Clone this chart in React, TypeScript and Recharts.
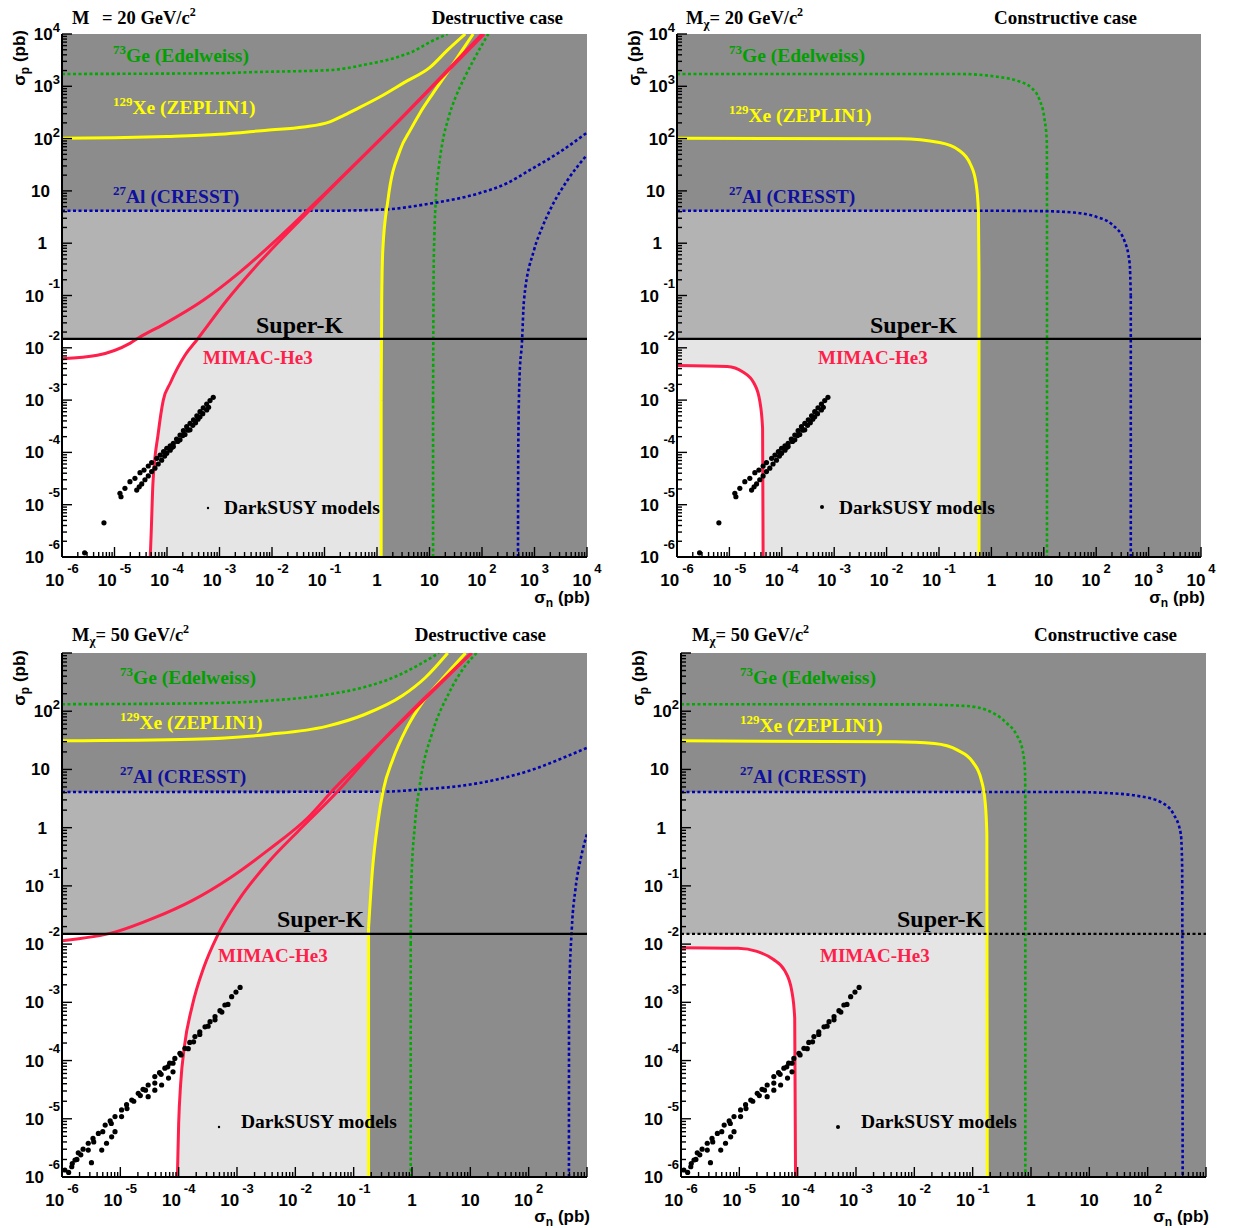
import React from "react";
import { ComposedChart, Area, Line, Scatter, XAxis, YAxis } from "recharts";

type P = [number, number];

const X_MIN = 1e-6;
const Y_MIN = 1e-6;

// ---------- M = 20 GeV/c2, destructive ----------
const SK_20 = 0.0148;
const GE_20D_P: P[] = [[1e-6, 1720], [1e-3, 1780], [3.8e-3, 1860], [0.126, 2040], [0.6, 2600], [2.4, 3600], [5, 4700], [10.2, 7000], [22, 1e4]];
const GE_20D_N: P[] = [[11.7, 1e-6], [11.7, 1e-3], [11.8, 0.01], [12.0, 0.3], [12.4, 1.5], [13.2, 6.8], [14.8, 25], [17.5, 80], [23, 250], [31, 600], [47, 1500], [67, 3000], [98, 6000], [132, 1e4]];
const XE_20D_P: P[] = [[1e-6, 102], [1e-5, 104], [1e-4, 110], [1e-3, 121], [8e-3, 145], [0.04, 166], [0.126, 209], [0.22, 270], [0.38, 355], [1.15, 630], [3.4, 1200], [10.2, 2300], [22, 4900], [48, 1e4]];
const XE_20D_N: P[] = [[1.2, 1e-6], [1.2, 1e-3], [1.23, 0.08], [1.29, 0.74], [1.62, 6.8], [2.75, 60], [4.3, 145], [6.6, 310], [11.7, 740], [21.4, 1780], [38, 4200], [68, 1e4]];
const AL_20D_P: P[] = [[1e-6, 4.17], [0.1, 4.17], [1.3, 4.4], [10, 5.7], [91, 9.1], [300, 14], [813, 25], [3000, 55], [1e4, 130]];
const AL_20D_N: P[] = [[485, 1e-6], [490, 1e-4], [520, 3e-3], [575, 0.012], [630, 0.081], [980, 0.74], [1400, 2], [2100, 4.9], [4250, 16], [1e4, 49]];
const MIMAC_20D_P: P[] = [[1e-6, 6.2e-3], [4.7e-6, 7.2e-3], [2.0e-5, 0.0123], [3.1e-5, 0.0162], [8.3e-5, 0.0275], [4.9e-4, 0.081], [2.45e-3, 0.28], [0.014, 1.32], [0.126, 11], [2.75, 234], [100, 1e4]];
const MIMAC_20D_N: P[] = [[4.8e-5, 1e-6], [5.0e-5, 2.9e-6], [5.4e-5, 2.6e-5], [6.8e-5, 2.3e-4], [8.5e-5, 1e-3], [1.15e-4, 2.1e-3], [2.2e-4, 7.2e-3], [3.7e-4, 0.0141], [1.38e-3, 0.081], [5.9e-3, 0.44], [0.034, 2.75], [0.126, 10.5], [2.75, 229], [110, 1e4]];
const XE_AT_AL_20D = 1.54;
const XE_AT_SK_20D = 1.2;
const MIMAC_AT_SK_20D = 3.8e-4;

// ---------- M = 20 GeV/c2, constructive ----------
const GE_20C: P[] = [[1e-6, 1720], [0.24, 1720], [1.29, 1520], [3.0, 1290], [5.96, 910], [8.3, 550], [10.2, 253], [11.4, 91], [11.5, 19.5], [11.5, 1e-6]];
const XE_20C: P[] = [[1e-6, 102], [0.0186, 99], [0.102, 84], [0.24, 60], [0.4, 32], [0.51, 13.8], [0.565, 4.2], [0.58, 0.27], [0.58, 1e-6]];
const AL_20C: P[] = [[1e-6, 4.17], [1, 4.17], [10, 4.1], [38, 3.85], [90, 3.3], [209, 2.2], [347, 1.1], [436, 0.4], [457, 0.1], [457, 1e-6]];
const MIMAC_20C: P[] = [[1e-6, 4.6e-3], [9.1e-6, 4.4e-3], [1.78e-5, 3.5e-3], [2.95e-5, 2.1e-3], [3.8e-5, 9.6e-4], [4.3e-5, 2.9e-4], [4.4e-5, 1e-6]];
const XE_AT_AL_20C = 0.565;
const XE_AT_SK_20C = 0.58;

// ---------- M = 50 GeV/c2, destructive ----------
const SK_50 = 0.015;
const GE_50D_P: P[] = [[1e-6, 132], [1.7e-4, 136], [3.5e-3, 152], [0.034, 192], [0.15, 258], [0.51, 390], [1.26, 612], [2.9, 1e3]];
const GE_50D_N: P[] = [[0.95, 1e-6], [0.95, 1e-2], [0.97, 0.1], [1.12, 1.1], [1.37, 5.7], [2.25, 44], [4.3, 205], [8.2, 603], [12.8, 1e3]];
const XE_50D_P: P[] = [[1e-6, 31], [1.7e-4, 33], [3.5e-3, 40], [0.034, 55], [0.15, 87], [0.69, 186], [1.7, 380], [4.1, 1e3]];
const XE_50D_N: P[] = [[0.18, 1e-6], [0.18, 0.019], [0.21, 0.19], [0.26, 1.23], [0.32, 4.3], [0.47, 15], [0.8, 50], [1.48, 138], [3.2, 347], [8.3, 1e3]];
const AL_50D_P: P[] = [[1e-6, 4.1], [0.3, 4.15], [1.48, 4.55], [6.6, 5.2], [30, 6.8], [138, 10.5], [400, 16], [1e3, 23.5]];
const AL_50D_N: P[] = [[490, 1e-6], [492, 1e-3], [550, 0.019], [635, 0.089], [790, 0.31], [1e3, 0.78]];
const MIMAC_50D_P: P[] = [[1e-6, 0.0114], [8.3e-6, 0.0162], [3.7e-5, 0.0279], [1.7e-4, 0.056], [7.8e-4, 0.14], [3.5e-3, 0.42], [0.016, 1.45], [0.046, 4.6], [0.32, 32], [10.5, 1e3]];
const MIMAC_50D_N: P[] = [[9.5e-5, 1e-6], [1.0e-4, 8.3e-6], [1.08e-4, 3.9e-5], [1.26e-4, 1.8e-4], [1.7e-4, 8.5e-4], [2.7e-4, 4.0e-3], [4.6e-4, 0.0139], [1.05e-3, 0.056], [3.5e-3, 0.26], [0.0117, 0.91], [0.046, 3.6], [0.32, 32], [10.5, 1e3]];
const XE_AT_AL_50D = 0.315;
const XE_AT_SK_50D = 0.18;
const MIMAC_AT_SK_50D = 4.8e-4;

// ---------- M = 50 GeV/c2, constructive ----------
const GE_50C: P[] = [[1e-6, 132], [0.01, 131], [0.076, 123], [0.19, 101], [0.38, 63], [0.56, 40], [0.72, 21], [0.79, 9.2], [0.8, 3.6], [0.8, 1e-6]];
const XE_50C: P[] = [[1e-6, 31], [4.7e-3, 30], [0.022, 28], [0.055, 21.5], [0.1, 13.5], [0.14, 6.7], [0.164, 2.7], [0.175, 0.78], [0.178, 1e-6]];
const AL_50C: P[] = [[1e-6, 4.1], [5, 4.1], [23, 3.9], [69, 3.5], [174, 2.7], [280, 1.68], [370, 0.78], [390, 0.22], [398, 1e-6]];
const MIMAC_50C: P[] = [[1e-6, 8.7e-3], [9.5e-6, 8.5e-3], [2.0e-5, 7.5e-3], [3.8e-5, 5.5e-3], [6.0e-5, 3.5e-3], [7.9e-5, 1.6e-3], [8.9e-5, 5.4e-4], [9.2e-5, 1e-6]];
const XE_AT_AL_50C = 0.155;
const XE_AT_SK_50C = 0.177;

// ---------- DarkSUSY models ----------
const SUSY_20: P[] = [
  [1.27e-5, 1.65e-5], [1.33e-5, 1.42e-5], [1.58e-5, 2.06e-5], [1.97e-5, 2.75e-5], [2.45e-5, 3.2e-5], [3.06e-5, 4.1e-5],
  [3.65e-5, 4.6e-5], [4.4e-5, 5.5e-5], [5.1e-5, 6.4e-5], [6.4e-5, 7.7e-5], [7.4e-5, 8.9e-5], [8.6e-5, 1.04e-4],
  [9.9e-5, 1.2e-4], [1.15e-4, 1.34e-4], [1.32e-4, 1.49e-4], [1.52e-4, 1.8e-4], [1.77e-4, 2.15e-4], [2.05e-4, 2.6e-4],
  [2.37e-4, 3.1e-4], [2.75e-4, 3.6e-4], [3.2e-4, 4.2e-4], [3.7e-4, 5.0e-4], [4.25e-4, 6.0e-4], [4.9e-4, 7.1e-4],
  [5.7e-4, 8.4e-4], [6.6e-4, 9.8e-4], [7.6e-4, 1.13e-3],
  [9.9e-5, 9.6e-5], [1.15e-4, 1.1e-4], [1.25e-4, 1.25e-4], [1.32e-4, 1.29e-4], [1.6e-4, 1.62e-4], [1.77e-4, 1.74e-4],
  [2.0e-4, 2.1e-4], [2.2e-4, 2.2e-4], [2.5e-4, 2.65e-4], [2.74e-4, 2.7e-4], [3.1e-4, 3.3e-4], [3.5e-4, 3.7e-4],
  [3.9e-4, 4.3e-4], [4.25e-4, 4.8e-4], [4.8e-4, 5.5e-4], [5.7e-4, 6.5e-4], [6.2e-4, 7.3e-4],
  [2.65e-5, 1.9e-5], [2.96e-5, 2.2e-5], [3.3e-5, 2.5e-5], [3.8e-5, 3.0e-5], [4.4e-5, 3.55e-5], [5.1e-5, 4.3e-5],
  [5.9e-5, 5.0e-5], [6.8e-5, 6.0e-5], [7.9e-5, 7.1e-5], [9.0e-5, 8.5e-5],
  [6.3e-6, 4.5e-6], [2.7e-6, 1.2e-6],
];
const SUSY_50: P[] = [
  [1.12e-6, 1.32e-6], [1.47e-6, 1.5e-6], [1.67e-6, 1.96e-6], [1.9e-6, 2.6e-6], [2.3e-6, 3.0e-6], [2.82e-6, 3.8e-6],
  [3.4e-6, 4.6e-6], [4.2e-6, 5.6e-6], [5.5e-6, 7.8e-6], [6.7e-6, 9.2e-6], [8.1e-6, 1.09e-5], [1.05e-5, 1.42e-5],
  [1.28e-5, 1.75e-5], [1.57e-5, 2.1e-5], [2.03e-5, 2.74e-5], [2.45e-5, 3.2e-5], [3.0e-5, 3.8e-5], [3.9e-5, 5.3e-5],
  [4.7e-5, 6.2e-5], [5.8e-5, 7.4e-5], [7.0e-5, 9.0e-5], [8.6e-5, 1.09e-4], [1.05e-4, 1.33e-4], [1.28e-4, 1.62e-4],
  [1.55e-4, 2.05e-4], [1.9e-4, 2.58e-4], [2.3e-4, 3.1e-4], [2.83e-4, 3.8e-4], [3.45e-4, 4.65e-4], [4.2e-4, 5.7e-4],
  [5.1e-4, 7.2e-4], [6.2e-4, 9.0e-4], [8.1e-4, 1.25e-3], [9.6e-4, 1.5e-3], [1.13e-3, 1.8e-3],
  [1.3e-6, 1.2e-6], [1.5e-6, 1.7e-6], [1.8e-6, 2.0e-6], [2.1e-6, 2.4e-6], [2.82e-6, 2.9e-6], [3.5e-6, 4.0e-6],
  [5e-6, 6e-6], [7e-6, 8.3e-6], [1.05e-5, 1.09e-5], [1.3e-5, 1.5e-5], [1.7e-5, 2.0e-5], [2.2e-5, 2.5e-5],
  [2.7e-5, 3.1e-5], [3.9e-5, 4.1e-5], [5e-5, 5.8e-5], [6.5e-5, 7.8e-5], [8e-5, 9e-5], [1.1e-4, 1.25e-4],
  [1.46e-4, 1.6e-4], [1.8e-4, 2.1e-4], [2.3e-4, 2.8e-4], [3.2e-4, 3.9e-4], [4.2e-4, 5.0e-4], [5.5e-4, 6.8e-4],
  [7e-4, 9.2e-4],
  [3.0e-5, 2.4e-5], [3.9e-5, 3.1e-5], [5.1e-5, 3.8e-5], [6.7e-5, 5.0e-5], [8.0e-5, 6.4e-5],
  [4.8e-6, 2.9e-6], [5.8e-6, 3.8e-6], [7.1e-6, 4.9e-6], [8.1e-6, 6.0e-6],
  [3.2e-6, 1.76e-6],
];

const MANTISSAS = [1, 2, 3, 4, 5, 6, 7, 8, 9];
const DECADES_TOP = [-6, -5, -4, -3, -2, -1, 0, 1, 2, 3];
const DECADES_BOTTOM = [-6, -5, -4, -3, -2, -1, 0, 1, 2];

const DARK = "#8c8c8c";
const MID = "#b3b3b3";
const LIGHT = "#e5e5e5";
const RED = "#ff1f4b";
const YELLOW = "#ffff00";
const GREEN = "#00aa00";
const BLUE = "#0000b4";
const SANS = "'Liberation Sans', Arial, Helvetica, sans-serif";
const SERIF = "'Liberation Serif', 'Times New Roman', serif";

const logTicks = (decades: number[]) => [
  ...decades.flatMap((d) => MANTISSAS.map((m) => m * 10 ** d)),
  10 ** (decades[decades.length - 1] + 1),
];

const xy = (pts: P[]) => pts.map(([x, y]) => ({ x, y }));
const between = (pts: P[], lo: number, hi: number): P[] =>
  pts.filter(([, y]) => y > lo && y < hi).sort((a, b) => b[1] - a[1]);

// split a curve into runs where sigma_n grows (smooth) and vertical runs (straight)
type Piece = { pts: P[]; smooth: boolean };
const pieces = (pts: P[]): Piece[] => {
  const out: Piece[] = [];
  let smooth = pts[1][0] > pts[0][0];
  let cur: P[] = [pts[0]];
  for (let i = 1; i < pts.length; i++) {
    const s = pts[i][0] > pts[i - 1][0];
    if (s !== smooth) {
      out.push({ pts: cur, smooth });
      cur = [pts[i - 1]];
      smooth = s;
    }
    cur.push(pts[i]);
  }
  out.push({ pts: cur, smooth });
  return out;
};

type Panel = {
  left: number; top: number; width: number; height: number; mTop: number; mRight: number;
  decades: number[]; lastLabel: number;
  ge: P[][]; xe: P[][]; al: P[][]; mimac: P[][];
  sk: number; skDash?: string; alP: number;
  xeAtAl: number; xeAtSK: number; mimacAtSK: number | null;
  susy: P[];
};

const PANELS: Panel[] = [
  { left: 0, top: 0, width: 615, height: 602, mTop: 34, mRight: 28, decades: DECADES_TOP, lastLabel: 4,
    ge: [GE_20D_P, GE_20D_N], xe: [XE_20D_P, XE_20D_N], al: [AL_20D_P, AL_20D_N], mimac: [MIMAC_20D_P, MIMAC_20D_N],
    sk: SK_20, alP: 4.17, xeAtAl: XE_AT_AL_20D, xeAtSK: XE_AT_SK_20D, mimacAtSK: MIMAC_AT_SK_20D, susy: SUSY_20 },
  { left: 615, top: 0, width: 621, height: 602, mTop: 34, mRight: 35, decades: DECADES_TOP, lastLabel: 4,
    ge: [GE_20C], xe: [XE_20C], al: [AL_20C], mimac: [MIMAC_20C],
    sk: SK_20, alP: 4.17, xeAtAl: XE_AT_AL_20C, xeAtSK: XE_AT_SK_20C, mimacAtSK: null, susy: SUSY_20 },
  { left: 0, top: 618, width: 615, height: 604, mTop: 35, mRight: 28, decades: DECADES_BOTTOM, lastLabel: 2,
    ge: [GE_50D_P, GE_50D_N], xe: [XE_50D_P, XE_50D_N], al: [AL_50D_P, AL_50D_N], mimac: [MIMAC_50D_P, MIMAC_50D_N],
    sk: SK_50, alP: 4.1, xeAtAl: XE_AT_AL_50D, xeAtSK: XE_AT_SK_50D, mimacAtSK: MIMAC_AT_SK_50D, susy: SUSY_50 },
  { left: 619, top: 618, width: 617, height: 604, mTop: 35, mRight: 30, decades: DECADES_BOTTOM, lastLabel: 2,
    ge: [GE_50C], xe: [XE_50C], al: [AL_50C], mimac: [MIMAC_50C],
    sk: SK_50, skDash: "3 2.5", alP: 4.1, xeAtAl: XE_AT_AL_50C, xeAtSK: XE_AT_SK_50C, mimacAtSK: null, susy: SUSY_50 },
];

function XTick(props: any) {
  const { x, y, payload, lastLabel } = props;
  const lg = Math.log10(payload.value);
  const e = Math.round(lg);
  const major = Math.abs(lg - e) < 1e-6;
  return (
    <g>
      <line x1={x} x2={x} y1={y} y2={y - (major ? 10 : 5)} stroke="#000" strokeWidth={1.4} />
      {major && e <= lastLabel && (
        <text x={x} y={y + 29} textAnchor="middle" fontFamily={SANS} fontWeight="bold" fontSize={17} fill="#000">
          {e === 0 ? "1" : "10"}
          {e !== 0 && e !== 1 && <tspan dx={3} dy={-13} fontSize={13}>{e}</tspan>}
        </text>
      )}
    </g>
  );
}

function YTick(props: any) {
  const { x, y, payload, lastLabel } = props;
  const lg = Math.log10(payload.value);
  const e = Math.round(lg);
  const major = Math.abs(lg - e) < 1e-6;
  const common = { fontFamily: SANS, fontWeight: "bold" as const, fill: "#000" };
  let label: React.ReactNode = null;
  if (major && e <= lastLabel) {
    if (e === 0 || e === 1) {
      label = <text x={x - (e === 0 ? 15 : 12)} y={y + 6} textAnchor="end" fontSize={17} {...common}>{e === 0 ? "1" : "10"}</text>;
    } else if (e > 1) {
      label = (
        <text x={x - 2} y={y + 6} textAnchor="end" fontSize={17} {...common}>
          10<tspan dy={-8} fontSize={13}>{e}</tspan>
        </text>
      );
    } else {
      label = (
        <g>
          <text x={x - 18} y={y + 6} textAnchor="end" fontSize={17} {...common}>10</text>
          <text x={x - 2} y={y - 8} textAnchor="end" fontSize={13} {...common}>{e}</text>
        </g>
      );
    }
  }
  return (
    <g>
      <line x1={x} x2={x + (major ? 10 : 5)} y1={y} y2={y} stroke="#000" strokeWidth={1.4} />
      {label}
    </g>
  );
}

function PanelChart({ p }: { p: Panel }) {
  const ticks = logTicks(p.decades);
  const max = ticks[ticks.length - 1];
  const xeVert = p.xe[p.xe.length - 1];
  const mimacVert = p.mimac[p.mimac.length - 1];
  const dark: P[] = [[X_MIN, max], [max, max]];
  const mid: P[] = [[X_MIN, p.alP], [p.xeAtAl, p.alP], ...between(xeVert, p.sk, p.alP), [p.xeAtSK, p.sk]];
  const light: P[] = [[X_MIN, p.sk], [p.xeAtSK, p.sk], ...between(xeVert, 0, p.sk)];
  const constructive = p.mimacAtSK === null;
  const white: P[] = constructive
    ? mimacVert
    : [[X_MIN, p.sk], [p.mimacAtSK as number, p.sk], ...between(mimacVert, 0, p.sk)];
  const superK: P[] = [[X_MIN, p.sk], [max, p.sk]];

  const fill = (pts: P[], color: string, base: number, key: string, smooth = false) => (
    <Area key={key} data={xy(pts)} dataKey="y" type={smooth ? "monotoneX" : "linear"} baseValue={base} fill={color}
      fillOpacity={1} stroke="none" dot={false} activeDot={false} isAnimationActive={false} />
  );
  const curve = (pts: P[], color: string, key: string, dash?: string, w = 3) =>
    pieces(pts).map((pc, j) => (
      <Line key={key + "-" + j} data={xy(pc.pts)} dataKey="y" type={pc.smooth ? "monotoneX" : "linear"} stroke={color}
        strokeWidth={w} strokeDasharray={dash} dot={false} activeDot={false} isAnimationActive={false}
        strokeLinejoin="round" />
    ));

  return (
    <div style={{ position: "absolute", left: p.left, top: p.top }}>
      <ComposedChart width={p.width} height={p.height} margin={{ top: p.mTop, right: p.mRight, bottom: 0, left: 0 }}>
        {fill(dark, DARK, Y_MIN, "dark")}
        {fill(mid, MID, p.sk, "mid")}
        {fill(light, LIGHT, Y_MIN, "light")}
        {fill(white, "#ffffff", Y_MIN, "white", constructive)}
        {p.ge.map((b, i) => curve(b, GREEN, "ge" + i, "3 2.5", 2.6))}
        {p.al.map((b, i) => curve(b, BLUE, "al" + i, "3 2.5", 2.6))}
        {p.xe.map((b, i) => curve(b, YELLOW, "xe" + i))}
        {p.mimac.map((b, i) => curve(b, RED, "mi" + i))}
        {curve(superK, "#000", "sk", p.skDash, 2.4)}
        <Scatter data={xy(p.susy)} isAnimationActive={false}
          shape={(s: any) => <circle cx={s.cx} cy={s.cy} r={2.6} fill="#000" />} />
        <XAxis dataKey="x" type="number" scale="log" domain={[X_MIN, max]} allowDataOverflow ticks={ticks} interval={0}
          height={45} tickSize={0} tickMargin={0} tickLine={false} axisLine={{ stroke: "#000", strokeWidth: 2 }}
          tick={(tp: any) => <XTick {...tp} lastLabel={p.lastLabel} />} />
        <YAxis dataKey="y" type="number" scale="log" domain={[Y_MIN, max]} allowDataOverflow ticks={ticks} interval={0}
          width={62} tickSize={0} tickMargin={0} tickLine={false} axisLine={{ stroke: "#000", strokeWidth: 2 }}
          tick={(tp: any) => <YTick {...tp} lastLabel={p.lastLabel} />} />
        <XAxis xAxisId="frameTop" orientation="top" type="number" scale="log" domain={[X_MIN, max]} allowDataOverflow
          height={0} tick={false} tickLine={false} axisLine={{ stroke: "#000", strokeWidth: 2 }} />
        <YAxis yAxisId="frameRight" orientation="right" type="number" scale="log" domain={[Y_MIN, max]} allowDataOverflow
          width={0} tick={false} tickLine={false} axisLine={{ stroke: "#000", strokeWidth: 2 }} />
      </ComposedChart>
    </div>
  );
}

type Txt = {
  title: [number, number]; chi: boolean; mass: number; kind: string; kindEnd: number;
  ge: [number, number]; xe: [number, number]; al: [number, number];
  superK: [number, number]; mimac: [number, number];
  dot: [number, number, number]; ds: [number, number];
  sp: [number, number]; sn: [number, number];
};

const TEXTS: Txt[] = [
  { title: [72, 24], chi: false, mass: 20, kind: "Destructive case", kindEnd: 563, ge: [113, 62], xe: [113, 114], al: [113, 203],
    superK: [256, 333], mimac: [203, 364], dot: [208, 508, 1.2], ds: [224, 514], sp: [25, 30], sn: [590, 603] },
  { title: [686, 24], chi: true, mass: 20, kind: "Constructive case", kindEnd: 1137, ge: [729, 62], xe: [729, 122], al: [729, 203],
    superK: [870, 333], mimac: [818, 364], dot: [822, 507, 2], ds: [839, 514], sp: [640, 30], sn: [1205, 603] },
  { title: [72, 641], chi: true, mass: 50, kind: "Destructive case", kindEnd: 546, ge: [120, 684], xe: [120, 729], al: [120, 783],
    superK: [277, 927], mimac: [218, 962], dot: [219, 1127, 1.2], ds: [241, 1128], sp: [25, 650], sn: [590, 1222] },
  { title: [692, 641], chi: true, mass: 50, kind: "Constructive case", kindEnd: 1177, ge: [740, 684], xe: [740, 732], al: [740, 783],
    superK: [897, 927], mimac: [820, 962], dot: [838, 1127, 2], ds: [861, 1128], sp: [644, 650], sn: [1209, 1222] },
];

function Isotope({ at, mass, name, color }: { at: [number, number]; mass: string; name: string; color: string }) {
  return (
    <text x={at[0]} y={at[1]} fill={color} fontFamily={SERIF} fontWeight="bold" fontSize={19.5}>
      <tspan fontSize={13} dy={-8}>{mass}</tspan>
      <tspan dy={8}>{name}</tspan>
    </text>
  );
}

function Labels() {
  return (
    <svg width={1236} height={1228} style={{ position: "absolute", left: 0, top: 0, pointerEvents: "none" }}>
      {TEXTS.map((t, i) => (
        <g key={i}>
          <text x={t.title[0]} y={t.title[1]} fontFamily={SERIF} fontWeight="bold" fontSize={18.5} fill="#000">
            M
            {t.chi ? <tspan fontSize={13} dy={4}>χ</tspan> : <tspan dx={8}> </tspan>}
            <tspan dy={t.chi ? -4 : 0}>= {t.mass} GeV/c</tspan>
            <tspan fontSize={12} dy={-8}>2</tspan>
          </text>
          <text x={t.kindEnd} y={t.title[1]} textAnchor="end" fontFamily={SERIF} fontWeight="bold" fontSize={19} fill="#000">
            {t.kind}
          </text>
          <Isotope at={t.ge} mass="73" name="Ge (Edelweiss)" color="#00a000" />
          <Isotope at={t.xe} mass="129" name="Xe (ZEPLIN1)" color={YELLOW} />
          <Isotope at={t.al} mass="27" name="Al (CRESST)" color="#1010a0" />
          <text x={t.superK[0]} y={t.superK[1]} fontFamily={SERIF} fontWeight="bold" fontSize={24} fill="#000">Super-K</text>
          <text x={t.mimac[0]} y={t.mimac[1]} fontFamily={SERIF} fontWeight="bold" fontSize={19} fill={RED}>MIMAC-He3</text>
          <circle cx={t.dot[0]} cy={t.dot[1]} r={t.dot[2]} fill="#000" />
          <text x={t.ds[0]} y={t.ds[1]} fontFamily={SERIF} fontWeight="bold" fontSize={19.5} fill="#000">DarkSUSY models</text>
          <text transform={`translate(${t.sp[0]},${t.sp[1]}) rotate(-90)`} textAnchor="end" fontFamily={SANS}
            fontWeight="bold" fontSize={17} fill="#000">
            σ<tspan fontSize={12} dy={4}>p</tspan><tspan dy={-4}> (pb)</tspan>
          </text>
          <text x={t.sn[0]} y={t.sn[1]} textAnchor="end" fontFamily={SANS} fontWeight="bold" fontSize={17} fill="#000">
            σ<tspan fontSize={12} dy={4}>n</tspan><tspan dy={-4}> (pb)</tspan>
          </text>
        </g>
      ))}
    </svg>
  );
}

export default function App() {
  return (
    <div style={{ position: "absolute", left: 0, top: 0, width: 1236, height: 1228, background: "#fff", overflow: "hidden" }}>
      {PANELS.map((p, i) => <PanelChart key={i} p={p} />)}
      <Labels />
    </div>
  );
}
